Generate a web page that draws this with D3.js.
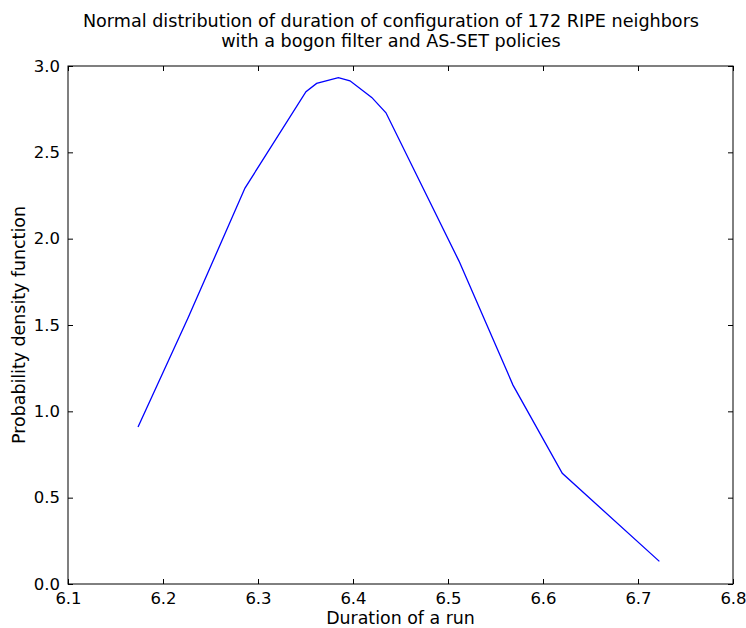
<!DOCTYPE html>
<html>
<head>
<meta charset="utf-8">
<script src="https://cdn.jsdelivr.net/npm/d3@7"></script>
<style>
  body { margin: 0; background: #fff; }
  text { font-family: "DejaVu Sans", sans-serif; fill: #000; }
</style>
</head>
<body>
<script>
// data
var durations = [6.1737, 6.2263, 6.2863, 6.3505, 6.3617, 6.3846, 6.3968, 6.4197, 6.4347, 6.5116, 6.5684, 6.6203, 6.7225];
var densities = [0.909, 1.54, 2.293, 2.851, 2.899, 2.932, 2.914, 2.818, 2.729, 1.87, 1.152, 0.641, 0.131];
var xTicks = [6.1, 6.2, 6.3, 6.4, 6.5, 6.6, 6.7, 6.8];
var yTicks = [0.0, 0.5, 1.0, 1.5, 2.0, 2.5, 3.0];
var titleLines = ["Normal distribution of duration of configuration of 172 RIPE neighbors",
                  "with a bogon filter and AS-SET policies"];

var width = 746, height = 628;
// plot box edges (window.top is reserved, so use other names)
var plotLeft = 68, plotRight = 733, plotTop = 66, plotBottom = 584;

var svg = d3.select("body").append("svg")
    .attr("width", width)
    .attr("height", height);

var x = d3.scaleLinear().domain([6.1, 6.8]).range([plotLeft, plotRight]);
var y = d3.scaleLinear().domain([0, 3.0]).range([plotBottom, plotTop]);

// title (sits a bit left of the plot centre in the original)
svg.append("g").selectAll("text")
    .data(titleLines)
    .enter().append("text")
    .attr("x", 391)
    .attr("y", function (d, i) { return 27 + i * 19.5; })
    .attr("text-anchor", "middle")
    .style("font-size", "17.6px")
    .text(function (d) { return d; });

// bottom / top axes
svg.append("g")
    .attr("transform", "translate(0," + plotBottom + ")")
    .call(d3.axisBottom(x).tickValues(xTicks).tickSizeInner(-5).tickSizeOuter(0).tickPadding(8)
        .tickFormat(d3.format(".1f")))
    .call(function (g) {
        g.selectAll("text").style("font-size", "16.5px");
        g.select(".domain").remove();
    });
svg.append("g")
    .attr("transform", "translate(0," + plotTop + ")")
    .call(d3.axisTop(x).tickValues(xTicks).tickSizeInner(-5).tickSizeOuter(0).tickFormat(""))
    .call(function (g) { g.select(".domain").remove(); });

// left / right axes
svg.append("g")
    .attr("transform", "translate(" + plotLeft + ",0)")
    .call(d3.axisLeft(y).tickValues(yTicks).tickSizeInner(-5).tickSizeOuter(0).tickPadding(8)
        .tickFormat(d3.format(".1f")))
    .call(function (g) {
        g.selectAll("text").style("font-size", "16.5px");
        g.select(".domain").remove();
    });
svg.append("g")
    .attr("transform", "translate(" + plotRight + ",0)")
    .call(d3.axisRight(y).tickValues(yTicks).tickSizeInner(-5).tickSizeOuter(0).tickFormat(""))
    .call(function (g) { g.select(".domain").remove(); });

// frame
svg.append("rect")
    .attr("x", plotLeft).attr("y", plotTop)
    .attr("width", plotRight - plotLeft).attr("height", plotBottom - plotTop)
    .attr("fill", "none")
    .attr("stroke", "#000")
    .attr("stroke-width", 1);

// the curve
var line = d3.line()
    .x(function (d) { return x(d[0]); })
    .y(function (d) { return y(d[1]); });

svg.append("path")
    .datum(d3.zip(durations, densities))
    .attr("d", line)
    .attr("fill", "none")
    .attr("stroke", "#0000ff")
    .attr("stroke-width", 1.3);

// axis labels
svg.append("text")
    .attr("x", (plotLeft + plotRight) / 2)
    .attr("y", 624)
    .attr("text-anchor", "middle")
    .style("font-size", "17.4px")
    .text("Duration of a run");

svg.append("text")
    .attr("transform", "translate(25," + (plotTop + plotBottom) / 2 + ") rotate(-90)")
    .attr("text-anchor", "middle")
    .style("font-size", "17.4px")
    .text("Probability density function");
</script>
</body>
</html>
